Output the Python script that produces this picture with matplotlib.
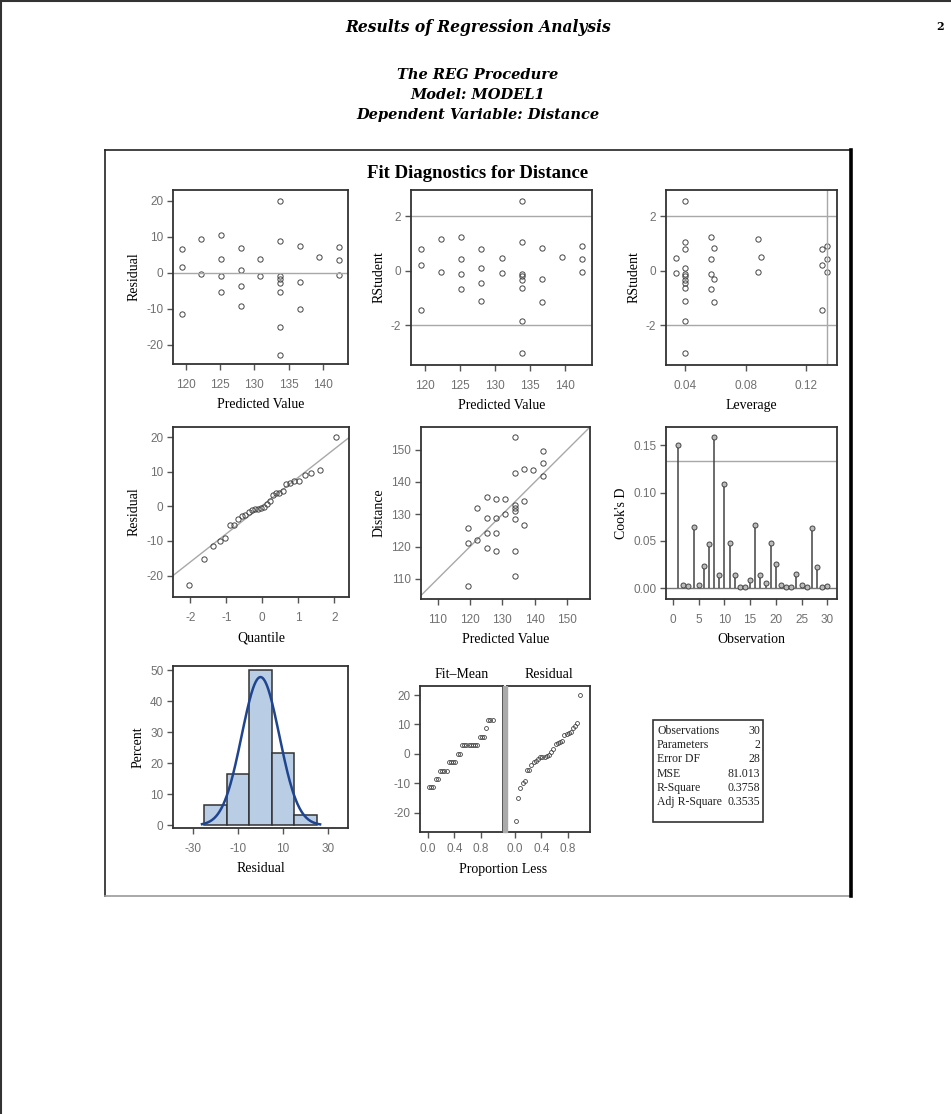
import matplotlib.pyplot as plt
import numpy as np
from statistics import NormalDist
from matplotlib.patches import Rectangle
from matplotlib.lines import Line2D

plt.rcParams['axes.unicode_minus'] = False

W, H = 951, 1114

# values (grouped by predicted value)
predicted = [119.4, 119.4, 119.4, 122.3, 122.3, 125.1, 125.1, 125.1, 125.1,
             128.0, 128.0, 128.0, 128.0, 130.9, 130.9,
             133.8, 133.8, 133.8, 133.8, 133.8, 133.8, 133.8, 133.8,
             136.7, 136.7, 136.7, 139.5, 142.4, 142.4, 142.4]
residual = [6.5, 1.6, -11.6, 9.5, -0.3, 10.4, 3.7, -1.0, -5.4,
            6.8, 0.7, -3.8, -9.3, 3.9, -0.9,
            20.0, 8.9, -0.9, -1.7, -2.8, -5.4, -15.1, -22.8,
            7.3, -2.6, -10.0, 4.3, 7.2, 3.4, -0.6]
rstudent = [0.80, 0.21, -1.46, 1.15, -0.04, 1.25, 0.43, -0.13, -0.67,
            0.80, 0.11, -0.46, -1.10, 0.45, -0.10,
            2.56, 1.06, -0.11, -0.20, -0.33, -0.62, -1.85, -3.03,
            0.83, -0.32, -1.16, 0.50, 0.91, 0.43, -0.06]
leverage = [0.130, 0.130, 0.130, 0.0877, 0.0877, 0.0570, 0.0570, 0.0570, 0.0570,
            0.0400, 0.0400, 0.0400, 0.0400, 0.0336, 0.0336,
            0.0400, 0.0400, 0.0400, 0.0400, 0.0400, 0.0400, 0.0400, 0.0400,
            0.0589, 0.0589, 0.0589, 0.0899, 0.1337, 0.1337, 0.1337]
cooks_d = [0.150, 0.004, 0.002, 0.064, 0.003, 0.023, 0.046, 0.159, 0.014, 0.109,
           0.048, 0.014, 0.001, 0.001, 0.009, 0.066, 0.014, 0.006, 0.048, 0.026,
           0.003, 0.001, 0.001, 0.015, 0.003, 0.001, 0.063, 0.022, 0.001, 0.002]

stat_names = ['Observations', 'Parameters', 'Error DF', 'MSE', 'R-Square', 'Adj R-Square']
stat_values = ['30', '2', '28', '81.013', '0.3758', '0.3535']

predicted = np.array(predicted)
residual = np.array(residual)
n = len(residual)
distance = predicted + residual
obs = np.arange(1, n + 1)

SERIF = 'Liberation Serif'
TSERIF = 'DejaVu Serif'
SANS = 'Liberation Sans'
TICKC = '#707070'
SPINEC = '#333333'
REFC = '#a8a8a8'
MK = dict(marker='o', ls='none', ms=3.8, mfc='none', mec='#444444', mew=0.7)


def box(l, t, r, b):
    return [l / W, 1 - b / H, (r - l) / W, (b - t) / H]


def style(ax, xlabel=None, ylabel=None, xpad=7):
    for s in ax.spines.values():
        s.set_color(SPINEC)
        s.set_linewidth(1.3)
    ax.tick_params(direction='out', length=4, width=1, color='#555555',
                   labelsize=8.5, labelcolor=TICKC, pad=3)
    ax.tick_params(axis='x', pad=xpad)
    for lab in ax.get_xticklabels() + ax.get_yticklabels():
        lab.set_family(SANS)
    if xlabel:
        ax.set_xlabel(xlabel, family=SERIF, fontsize=10, labelpad=5)
    if ylabel:
        ax.set_ylabel(ylabel, family=SERIF, fontsize=10, labelpad=4)


fig = plt.figure(figsize=(W / 100, H / 100), dpi=100)

# page decorations
fig.add_artist(Line2D([0, 1], [1 - 1 / H, 1 - 1 / H], color='#333333', lw=1.5))
fig.add_artist(Line2D([1 / W, 1 / W], [0, 1], color='#333333', lw=1.5))
fig.text(478 / W, 1 - 27 / H, 'Results of Regression Analysis', family=TSERIF,
         weight='bold', style='italic', fontsize=11.2, ha='center', va='center')
fig.text(940 / W, 1 - 27 / H, '2', family=TSERIF, weight='bold', fontsize=8,
         ha='center', va='center')
for i, line in enumerate(['The REG Procedure', 'Model: MODEL1',
                          'Dependent Variable: Distance']):
    fig.text(478 / W, 1 - (75 + 20 * i) / H, line, family=TSERIF, weight='bold',
             style='italic', fontsize=10.5, ha='center', va='center')

# outer frame of the graph
fig.add_artist(Line2D([105 / W, 851 / W], [1 - 150 / H, 1 - 150 / H], color='#222222', lw=1.2))
fig.add_artist(Line2D([105 / W, 105 / W], [1 - 150 / H, 1 - 896 / H], color='#222222', lw=1.2))
fig.add_artist(Line2D([105 / W, 851 / W], [1 - 896 / H, 1 - 896 / H], color='#999999', lw=1.2))
fig.add_artist(Line2D([851 / W, 851 / W], [1 - 150 / H, 1 - 896 / H], color='black', lw=2.6))
fig.text(478 / W, 1 - 173 / H, 'Fit Diagnostics for Distance', family=SERIF,
         weight='bold', fontsize=13.5, ha='center', va='center')

# 1: residual vs predicted
ax = fig.add_axes(box(173, 190, 348, 364))
ax.plot(predicted, residual, **MK)
ax.axhline(0, color=REFC, lw=1)
ax.set_xlim(118.15, 143.66)
ax.set_ylim(-25.4, 23.0)
ax.set_xticks([120, 125, 130, 135, 140])
ax.set_yticks([-20, -10, 0, 10, 20])
style(ax, 'Predicted Value', 'Residual')

# 2: rstudent vs predicted
ax = fig.add_axes(box(411, 190, 592, 365))
ax.plot(predicted, rstudent, **MK)
ax.axhline(2, color=REFC, lw=1)
ax.axhline(-2, color=REFC, lw=1)
ax.set_xlim(117.95, 143.8)
ax.set_ylim(-3.46, 2.96)
ax.set_xticks([120, 125, 130, 135, 140])
ax.set_yticks([-2, 0, 2])
style(ax, 'Predicted Value', 'RStudent')

# 3: rstudent vs leverage
ax = fig.add_axes(box(666, 190, 837, 365))
ax.plot(leverage, rstudent, **MK)
ax.axhline(2, color=REFC, lw=1)
ax.axhline(-2, color=REFC, lw=1)
ax.axvline(0.1333, color=REFC, lw=1)
ax.set_xlim(0.0272, 0.1402)
ax.set_ylim(-3.46, 2.96)
ax.set_xticks([0.04, 0.08, 0.12])
ax.set_xticklabels(['0.04', '0.08', '0.12'])
ax.set_yticks([-2, 0, 2])
style(ax, 'Leverage', 'RStudent')

# 4: normal quantile plot of residuals
order = np.sort(residual)
quant = [NormalDist().inv_cdf((i - 0.375) / (n + 0.25)) for i in range(1, n + 1)]
ax = fig.add_axes(box(173, 427, 349, 597))
ax.axline((0, 0.2), slope=8.15, color=REFC, lw=1)
ax.plot(quant, order, **MK)
ax.set_xlim(-2.48, 2.41)
ax.set_ylim(-26.2, 22.9)
ax.set_xticks([-2, -1, 0, 1, 2])
ax.set_yticks([-20, -10, 0, 10, 20])
style(ax, 'Quantile', 'Residual')

# 5: observed vs predicted
ax = fig.add_axes(box(421, 427, 590, 599))
ax.axline((110, 110), slope=1, color=REFC, lw=1)
ax.plot(predicted, distance, **MK)
ax.set_xlim(104.9, 157.0)
ax.set_ylim(103.8, 157.0)
ax.set_xticks([110, 120, 130, 140, 150])
ax.set_yticks([110, 120, 130, 140, 150])
style(ax, 'Predicted Value', 'Distance')

# 6: Cook's D
ax = fig.add_axes(box(666, 427, 837, 599))
ax.axhline(0.1333, color=REFC, lw=1)
ax.axhline(0, color='#777777', lw=1)
ax.vlines(obs, 0, cooks_d, color='#444444', lw=1.1)
ax.plot(obs, cooks_d, marker='o', ls='none', ms=3.6, mfc='#bbbbbb', mec='#444444', mew=0.7)
ax.set_xlim(-1.36, 31.9)
ax.set_ylim(-0.0112, 0.1692)
ax.set_xticks([0, 5, 10, 15, 20, 25, 30])
ax.set_yticks([0, 0.05, 0.10, 0.15])
ax.set_yticklabels(['0.00', '0.05', '0.10', '0.15'])
style(ax, 'Observation', "Cook's D")

# 7: histogram of residuals with normal curve
ax = fig.add_axes(box(173, 666, 348, 828))
ax.hist(residual, bins=[-25, -15, -5, 5, 15, 25], weights=np.full(n, 100 / n),
        color='#b9cde5', edgecolor='#333333', lw=1.1)
sd = residual.std()
xs = np.linspace(-26, 26.5, 200)
ax.plot(xs, 100 * 10 * np.exp(-0.5 * (xs / sd) ** 2) / (sd * np.sqrt(2 * np.pi)),
        color='#1f4590', lw=1.8)
ax.set_xlim(-38.9, 38.9)
ax.set_ylim(-0.86, 51.3)
ax.set_xticks([-30, -10, 10, 30])
ax.set_yticks([0, 10, 20, 30, 40, 50])
style(ax, 'Residual', 'Percent')

# 8: residual-fit spread plot
prop = (np.arange(1, n + 1) - 0.5) / n
fitmean = np.sort(predicted - predicted.mean())
SMK = dict(marker='o', ls='none', ms=2.8, mfc='none', mec='#444444', mew=0.6)
fig.add_artist(Rectangle((503 / W, 1 - 832 / H), 4 / W, 146 / H, color='#aaaaaa'))
axa = fig.add_axes(box(420, 686, 503, 832))
axa.plot(prop, fitmean, **SMK)
axb = fig.add_axes(box(507, 686, 590, 832), sharey=axa)
axb.plot(prop, order, **SMK)
for a, t in [(axa, 'Fit\u2013Mean'), (axb, 'Residual')]:
    a.set_xlim(-0.12, 1.14)
    a.set_xticks([0.0, 0.4, 0.8])
    a.set_xticklabels(['0.0', '0.4', '0.8'])
    a.set_title(t, family=SERIF, fontsize=10, pad=6)
    style(a, xpad=4)
axa.set_ylim(-26.6, 23.1)
axa.set_yticks([-20, -10, 0, 10, 20])
axb.tick_params(axis='y', left=False, labelleft=False)
fig.text(503 / W, 1 - 869 / H, 'Proportion Less', family=SERIF, fontsize=10,
         ha='center', va='center')

# 9: fit statistics table
fig.add_artist(Rectangle((653 / W, 1 - 822 / H), 110 / W, 102 / H, fill=False,
                         ec='#333333', lw=1.2))
for i, (nm, v) in enumerate(zip(stat_names, stat_values)):
    y = 1 - (731 + 14.2 * i) / H
    fig.text(657 / W, y, nm, family=SERIF, fontsize=8.5, ha='left', va='center', color='#222222')
    fig.text(760 / W, y, v, family=SERIF, fontsize=8.5, ha='right', va='center', color='#222222')

fig.savefig('out.png', dpi=100)
